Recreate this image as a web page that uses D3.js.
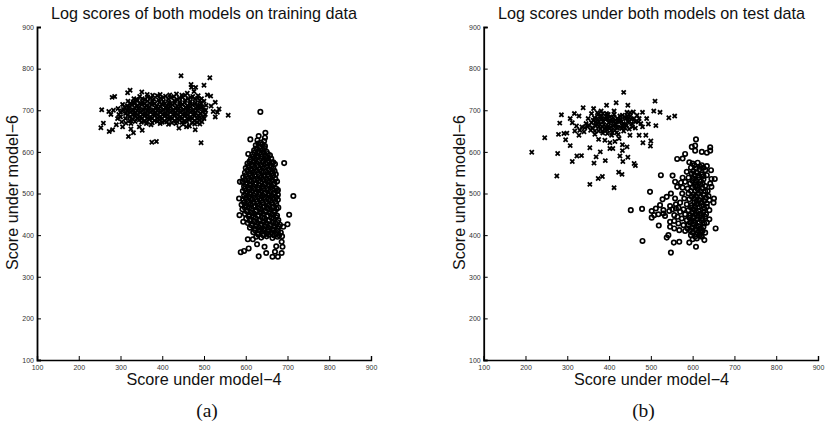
<!DOCTYPE html>
<html lang="en">
<head>
<meta charset="UTF-8">
<title>Log scores of both models</title>
<script src="https://d3js.org/d3.v7.min.js"></script>
<style>
  html, body { margin: 0; padding: 0; background: #fff; }
  svg { display: block; opacity: 0.999; }
  .tick text { font-family: 'Liberation Sans', Arial, sans-serif; font-size: 7px; fill: #333; }
  .title, .axis-label { font-family: 'Liberation Sans', Arial, sans-serif; font-size: 16.2px; fill: #111; }
  .caption { font-family: 'Liberation Serif', 'Times New Roman', serif; font-size: 19.5px; fill: #111; }
</style>
</head>
<body>
<div id="chart"></div>
<script>
// values, [score under model-4, score under model-6]
const tickValues = [100, 200, 300, 400, 500, 600, 700, 800, 900];
const titles = ['Log scores of both models on training data', 'Log scores under both models on test data'];
const captions = ['(a)', '(b)'];
const xLabel = 'Score under model\u22124';
const yLabel = 'Score under model\u22126';

const trainCrosses = [
  [445,783],[514,778],[469,762],[500,760],[480,755],[508,737],[516,734],[527,719],[517,710],[536,703],[522,697],[532,695],[527,684],[558,688],
  [255,701],[253,658],[259,669],[273,649],[281,653],[319,637],[331,646],[375,623],[386,625],[493,622],[479,653],[280,731],[286,733],[317,742],
  [323,748],[351,744],[440,657],[458,660],[490,667],[478,667],[272,697],[277,690],[283,700],[470,755],[476,745],[486,735],[494,728],
  [332,728],[346,733],[358,726],[372,729],[388,735],[402,731],[414,727],[428,733],[441,729],[455,736],[468,731],[478,727],[490,724],
  [318,722],[330,719],[341,724],[353,719],[365,722],[377,720],[391,725],[403,721],[416,719],[429,723],[442,720],[455,724],[467,721],[480,718],[493,716],
  [305,714],[316,711],[328,713],[339,710],[351,714],[362,711],[375,713],[387,710],[399,714],[411,711],[424,713],[436,710],[448,714],[460,711],[472,713],[484,710],[496,708],
  [294,704],[307,702],[319,705],[331,701],[343,704],[355,702],[367,705],[379,701],[391,704],[403,702],[415,705],[427,701],[439,704],[451,702],[463,705],[475,701],[487,704],[499,700],
  [300,695],[312,692],[324,696],[336,693],[348,695],[360,692],[372,696],[384,693],[396,695],[408,692],[420,696],[432,693],[444,695],[456,692],[468,696],[480,693],[492,692],[503,690],
  [322,684],[334,687],[346,684],[358,686],[370,683],[382,687],[394,684],[406,686],[418,683],[430,687],[442,684],[454,686],[466,683],[478,687],[490,683],[500,680],
  [345,677],[357,674],[369,678],[381,675],[393,677],[405,674],[417,678],[429,675],[441,677],[453,674],[465,678],[477,675],[489,676],
  [293,680],[303,672],[313,669],[290,665],[325,668],[335,673],[305,660],[325,655],[345,660],[352,652],[362,668],[373,665],[395,668],[415,666],[433,668],[450,666],[465,662],
  [338,726],[352,728],[365,732],[380,727],[396,729],[408,734],[421,730],[435,726],[448,731],[462,728],[473,733],[485,729],
  [324,716],[335,718],[346,716],[358,716],[370,717],[382,716],[393,719],[406,716],[418,716],[430,717],[442,716],[454,718],[466,716],[478,715],[490,713],
  [310,707],[322,708],[334,706],[346,708],[358,707],[370,708],[384,706],[396,708],[408,707],[420,708],[432,706],[444,708],[456,707],[468,708],[480,706],[492,706],
  [304,698],[316,699],[328,698],[340,699],[352,698],[364,699],[376,698],[388,699],[400,698],[412,699],[424,698],[436,699],[448,698],[460,699],[472,698],[484,699],[496,696],
  [318,689],[330,690],[342,689],[354,690],[366,689],[378,690],[390,689],[402,690],[414,689],[426,690],[438,689],[450,690],[462,689],[474,690],[486,688],
  [340,681],[352,681],[364,681],[376,681],[388,681],[400,680],[412,681],[424,681],[436,680],[448,681],[460,680],[472,681],[484,680],
  [350,671],[363,672],[376,670],[388,673],[400,671],[411,672],[423,670],[436,672],[447,671],[459,672],[471,670],[483,671],[495,672],
  [364,738],[377,736],[395,738],[418,737],[434,739],[447,736],[460,741],[300,684],[312,680],[322,675],[296,690],[330,678],[504,700],[505,712],[500,722],[498,684]
];
const trainCircles = [
  [635,696],[647,646],[611,630],[631,638],[646,634],[606,595],[692,573],[714,494],[586,528],[584,488],[704,449],[700,426],[690,420],[687,397],
  [588,359],[596,362],[607,368],[631,349],[605,390],[617,390],[627,378],[645,372],[649,357],[664,348],[677,348],[686,357],[688,372],[686,384],[670,360],[673,373],[585,448],[594,432],
  [628,628],[636,622],[644,626],[624,616],[634,612],[646,614],
  [620,604],[630,602],[641,605],[650,600],[616,594],[626,591],[637,594],[648,590],[658,592],
  [612,582],[622,584],[633,580],[644,583],[655,579],[666,575],[604,572],[614,570],[625,573],[636,569],[647,572],[658,568],[670,571],
  [600,561],[611,559],[622,562],[633,558],[644,561],[655,557],[666,560],[598,550],[609,548],[620,551],[631,547],[642,550],[653,546],[664,549],[672,546],
  [594,539],[605,537],[616,540],[627,536],[638,539],[649,535],[660,538],[671,535],[592,528],[603,526],[614,529],[625,525],[636,528],[647,524],[658,527],[669,524],
  [596,517],[607,515],[618,518],[629,514],[640,517],[651,513],[662,516],[673,512],[593,506],[604,504],[615,507],[626,503],[637,506],[648,502],[659,505],[670,502],[677,508],
  [596,495],[607,493],[618,496],[629,492],[640,495],[651,491],[662,494],[673,491],[594,484],[605,482],[616,485],[627,481],[638,484],[649,480],[660,483],[671,480],
  [590,473],[601,471],[612,474],[623,470],[634,473],[645,469],[656,472],[667,469],[678,466],[592,462],[603,460],[614,463],[625,459],[636,462],[647,458],[658,461],[669,458],
  [598,451],[609,449],[620,452],[631,448],[642,451],[653,447],[664,450],[675,447],[601,440],[612,438],[623,441],[634,437],[645,440],[656,436],[667,439],[678,436],
  [605,429],[616,427],[627,430],[638,426],[649,429],[660,425],[671,428],[682,425],[610,418],[621,416],[632,419],[643,415],[654,418],[665,414],[676,417],
  [618,407],[629,405],[640,408],[651,404],[662,407],[673,403],[684,406],[625,396],[637,394],[650,397],[664,393],[676,396],
  [630,620],[640,618],[625,608],[636,607],[645,609],[621,598],[632,597],[643,599],[653,595],[617,588],[628,587],[639,588],[650,585],[661,584],
  [609,577],[619,576],[630,576],[641,577],[652,574],[663,573],[606,566],[617,566],[628,567],[639,564],[650,565],[661,564],[604,555],[615,555],[626,555],[637,553],[648,553],[659,552],[669,554],
  [600,544],[611,543],[622,544],[633,542],[644,544],[655,541],[666,543],[598,533],[609,532],[620,533],[631,531],[642,533],[653,530],[664,531],[675,529],
  [600,522],[611,521],[622,522],[633,520],[644,521],[655,519],[666,521],[598,511],[609,510],[620,512],[631,509],[642,511],[653,508],[664,510],[675,506],
  [600,500],[611,499],[622,500],[633,498],[644,500],[655,497],[666,499],[677,497],[600,489],[611,488],[622,490],[633,487],[644,489],[655,486],[666,488],[677,485],
  [596,478],[607,477],[618,479],[629,476],[640,478],[651,475],[662,477],[673,475],[597,467],[608,466],[619,468],[630,465],[641,467],[652,464],[663,466],[674,463],
  [603,456],[614,455],[625,457],[636,454],[647,456],[658,453],[669,455],[607,445],[618,444],[629,446],[640,443],[651,445],[662,442],[673,443],
  [610,434],[621,433],[632,434],[643,432],[654,434],[665,431],[676,431],[614,423],[625,422],[636,423],[647,421],[658,422],[669,420],[680,420],
  [622,412],[633,411],[644,412],[655,410],[666,411],[677,410],[630,401],[642,400],[655,401],[668,399],[680,400]
];
const testCrosses = [
  [215,599],[246,634],[275,542],[277,596],[279,642],[282,669],[286,689],[292,644],[299,645],[296,629],[307,615],[307,680],[312,577],[323,590],[334,591],
  [328,640],[317,692],[328,686],[354,610],[354,522],[364,573],[369,588],[379,600],[391,579],[374,536],[384,541],[412,514],[423,551],[431,546],[426,590],
  [433,577],[445,587],[432,603],[432,617],[443,612],[460,572],[463,567],[402,608],[409,608],[481,622],[500,626],[499,614],[488,640],[450,640],[472,640],
  [435,743],[417,718],[445,712],[394,712],[510,722],[507,698],[522,695],[543,682],[557,686],[512,663],[494,667],[490,680],[480,695],[463,657],[338,706],[363,704],[381,698],
  [312,670],[322,662],[335,660],[318,650],[330,652],[340,648],[345,668],[350,680],[358,692],[349,660],[358,670],[356,652],[365,682],[368,662],[372,694],[366,642],
  [376,672],[379,655],[382,686],[385,645],[388,665],[392,678],[394,692],[396,652],[399,670],[402,684],[404,660],[406,640],[409,674],[412,690],[414,652],[417,666],
  [420,680],[422,642],[424,632],[427,660],[430,673],[432,688],[435,650],[437,665],[440,680],[443,695],[445,672],[448,655],[451,686],[454,668],[458,696],[460,680],
  [463,672],[467,688],[472,680],[476,668],[480,660],[375,630],[390,628],[402,622],[414,625],[384,660],[395,680],[410,662],[425,672],[438,658],[392,660],[405,672],[418,658],[372,680],
  [362,676],[370,668],[376,660],[380,678],[386,672],[390,654],[394,686],[398,662],[402,676],[406,652],[410,682],[414,668],[418,646],[422,674],[426,686],[430,656],
  [434,668],[438,684],[442,664],[446,678],[450,694],[453,678],[456,660],[342,658],[352,664],[360,658],[366,650],[374,690],[384,650],[396,644],[408,646],[420,658],
  [378,666],[384,680],[400,656],[415,676],[428,678],[432,662],[444,686],[470,672],[398,690],[412,698],[385,692],[375,650],[368,672]
];
const testCircles = [
  [608,630],[598,612],[606,615],[606,603],[622,600],[634,598],[642,611],[642,603],[582,595],[576,584],[563,583],[592,575],[524,544],[552,543],[558,528],[563,516],
  [653,535],[645,535],[645,516],[498,504],[548,500],[538,492],[528,486],[522,472],[651,488],[650,478],[452,460],[479,463],[502,458],[512,464],[502,442],[530,460],
  [534,446],[519,423],[655,416],[480,386],[538,394],[542,400],[555,382],[568,384],[592,382],[608,372],[548,358],[628,388],[610,392],[622,396],
  [600,572],[612,574],[622,568],[596,562],[608,560],[618,564],[630,556],[586,552],[598,548],[610,550],[622,546],[634,544],[590,538],[602,536],[614,538],[626,534],
  [582,528],[594,524],[606,526],[618,522],[630,518],[576,514],[588,512],[600,514],[612,510],[624,512],[636,506],[590,500],[602,498],[614,500],[626,496],[638,494],
  [580,488],[592,486],[604,488],[616,484],[628,482],[640,484],[586,474],[598,472],[610,474],[622,470],[634,468],[566,466],[578,462],[590,460],[602,462],[614,458],[626,456],[640,460],
  [544,458],[552,462],[560,464],[570,456],[582,450],[594,448],[606,450],[618,446],[630,444],[640,438],[556,448],[564,444],[574,440],[586,436],[598,436],[610,438],[622,434],[634,430],
  [546,432],[556,434],[566,428],[578,424],[590,424],[602,426],[614,422],[626,420],[546,420],[556,416],[568,412],[582,410],[594,412],[606,414],[618,410],[630,406],[596,400],[608,402],[620,398],[600,390],
  [530,452],[518,450],[508,448],[560,474],[570,478],[558,488],[546,470],[575,500],[572,526],[576,538],[642,524],[644,556],[634,566],
  [604,568],[616,558],[626,562],[602,554],[614,544],[604,544],[626,542],[608,532],[620,530],[600,530],[612,518],[624,524],[606,518],[618,506],[630,506],[606,506],
  [596,506],[608,494],[620,492],[632,490],[598,492],[610,482],[622,478],[634,476],[604,478],[616,468],[628,464],[606,468],[596,466],[608,456],[620,452],[632,450],
  [600,454],[612,444],[624,440],[602,442],[592,442],[604,432],[616,430],[628,428],[594,430],[608,420],[620,416],[600,418],[588,416],[612,406],[624,410],[600,406],[606,396],[616,400]
];

const svg = d3.select('#chart').append('svg').attr('width', 828).attr('height', 423);
const symX = d3.symbol().type(d3.symbolX).size(13);

function drawPanel(left, right, cx, capX, title, caption, crosses, circles) {
  const x = d3.scaleLinear().domain([100, 900]).range([left, right]);
  const y = d3.scaleLinear().domain([100, 900]).range([360, 27]);
  const g = svg.append('g');

  // ticks point into the plot, no top or right axis
  const xAxis = g.append('g').attr('transform', 'translate(0,360)')
    .call(d3.axisBottom(x).tickValues(tickValues).tickSize(-4).tickPadding(5).tickFormat(d3.format('d')));
  const yAxis = g.append('g').attr('transform', `translate(${left},0)`)
    .call(d3.axisLeft(y).tickValues(tickValues).tickSize(-4).tickPadding(3).tickFormat(d3.format('d')));
  xAxis.select('.domain').attr('stroke-width', 1.4);
  yAxis.select('.domain').attr('stroke-width', 1.8);
  g.selectAll('.tick line').attr('stroke-width', 1);

  g.selectAll('.cross').data(crosses).enter().append('path')
    .attr('class', 'cross')
    .attr('d', symX)
    .attr('transform', d => `translate(${x(d[0])},${y(d[1])})`)
    .attr('fill', 'none').attr('stroke', '#000').attr('stroke-width', 1.8);

  g.selectAll('.ring').data(circles).enter().append('circle')
    .attr('class', 'ring')
    .attr('cx', d => x(d[0])).attr('cy', d => y(d[1])).attr('r', 2.2)
    .attr('fill', 'none').attr('stroke', '#000').attr('stroke-width', 1.7);

  g.append('text').attr('class', 'title').attr('x', cx).attr('y', 19).attr('text-anchor', 'middle').text(title);
  g.append('text').attr('class', 'axis-label').attr('x', cx).attr('y', 385).attr('text-anchor', 'middle').text(xLabel);
  g.append('text').attr('class', 'axis-label').attr('text-anchor', 'middle')
    .attr('transform', `translate(${left - 19},192.5) rotate(-90)`).text(yLabel);
  g.append('text').attr('class', 'caption').attr('x', capX).attr('y', 417).attr('text-anchor', 'middle').text(caption);
}

drawPanel(37, 371, 204, 207, titles[0], captions[0], trainCrosses, trainCircles);
drawPanel(483.7, 818, 651.5, 643.5, titles[1], captions[1], testCrosses, testCircles);
</script>
</body>
</html>
